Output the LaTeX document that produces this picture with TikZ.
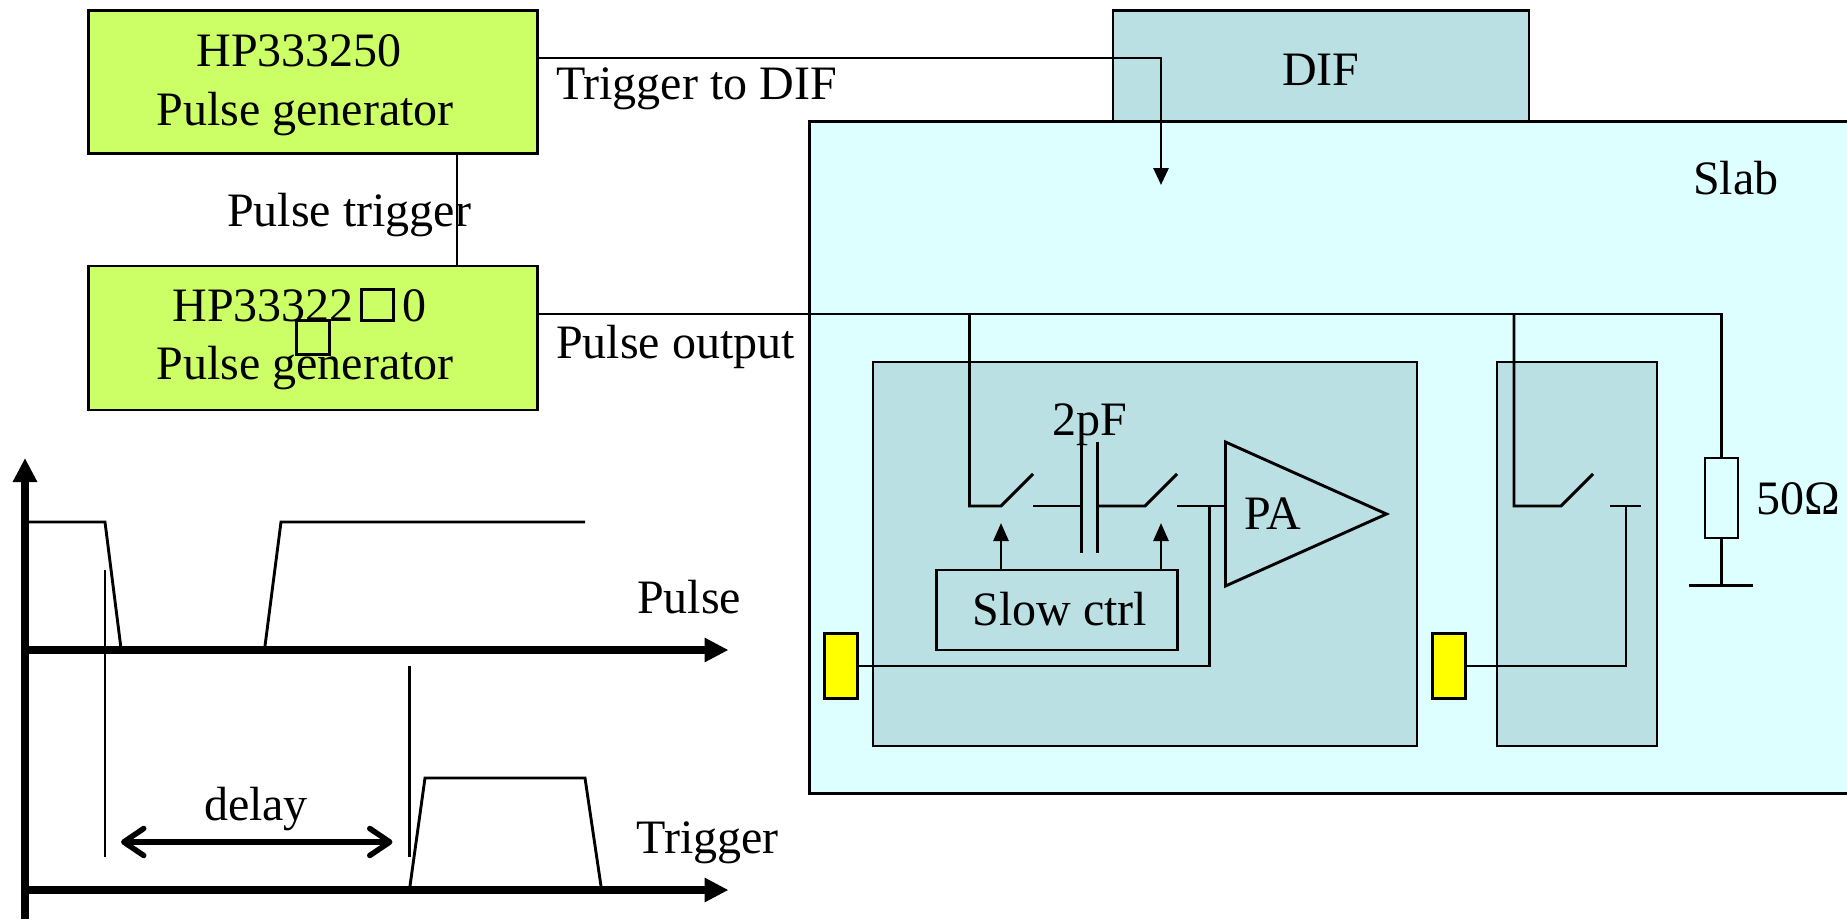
\documentclass[tikz,border=0pt]{standalone}
\usepackage{fontspec}
\setmainfont{Liberation Serif}
\usetikzlibrary{arrows.meta}
\newcommand{\tofu}{\setlength{\fboxsep}{0pt}\setlength{\fboxrule}{3pt}\fbox{\rule{0pt}{28pt}\rule{29pt}{0pt}}}
\definecolor{genfill}{HTML}{CCFF66}
\definecolor{modfill}{HTML}{BBE0E3}
\definecolor{slabfill}{HTML}{DDFFFF}
\definecolor{padfill}{HTML}{FFFF00}
\tikzset{
  lw/.style={line width=2.9pt},
  block/.style={draw=black,lw,anchor=north west,inner sep=0pt,outer sep=0pt},
  genbox/.style={block,fill=genfill},
  modbox/.style={block,fill=modfill},
  slabbox/.style={block,fill=slabfill},
  padbox/.style={block,fill=padfill},
  wire/.style={draw=black,lw,line join=miter},
  ctrl/.style={wire,-{Triangle[length=18pt,width=15pt]}},
  axis/.style={draw=black,line width=8pt,-{Triangle[length=24pt,width=23pt]}},
  mark line/.style={draw=black,line width=2.9pt},
  delayarrow/.style={draw=black,line width=5.5pt,{Straight Barb[length=20pt,width=27pt,line cap=round,line join=round]}-{Straight Barb[length=20pt,width=27pt,line cap=round,line join=round]}},
  lbl/.style={anchor=base west,inner sep=0pt,outer sep=0pt,font=\fontsize{48}{50}\selectfont},
}
\begin{document}
\begin{tikzpicture}[x=1pt,y=-1pt]
\useasboundingbox (0,0) rectangle (1847,919);
\clip (0,0) rectangle (1847,919);
% boxes
\node[modbox,minimum width=416pt,minimum height=111pt] (dif) at (1113,10.5) {};
\node[slabbox,minimum width=1060pt,minimum height=672pt] (slab) at (809.5,121.5) {};
\node[modbox,minimum width=544pt,minimum height=384pt] (modA) at (873,362) {};
\node[modbox,minimum width=160pt,minimum height=384pt] (modB) at (1497,362) {};
\node[genbox,minimum width=449pt,minimum height=143pt] (gen1) at (88.5,10.5) {};
\node[genbox,minimum width=449pt,minimum height=144pt] (gen2) at (88.5,266) {};
\node[padbox,minimum width=33pt,minimum height=65pt] (padA) at (824.5,633.5) {};
\node[padbox,minimum width=33pt,minimum height=65pt] (padB) at (1432.5,633.5) {};
\node[block,minimum width=241pt,minimum height=80pt] (slow) at (936.5,570) {};
\node[block,minimum width=33pt,minimum height=80pt] (res) at (1705,458) {};
% coordinates
\coordinate (trigS) at (537,58);
\coordinate (trigC) at (1161,58);
\coordinate (trigE) at (1161,185);
\coordinate (outS) at (537,314);
\coordinate (brA) at (969.5,314);
\coordinate (brAd) at (969.5,506);
\coordinate (swA) at (1001,506);
\coordinate (swAe) at (1033,474);
\coordinate (capAs) at (1033,506);
\coordinate (capAt) at (1081.5,442);
\coordinate (capAb) at (1081.5,553);
\coordinate (capAm) at (1081.5,506);
\coordinate (capBt) at (1097.5,442);
\coordinate (capBb) at (1097.5,553);
\coordinate (capBm) at (1097.5,506);
\coordinate (swB) at (1145,506);
\coordinate (swBe) at (1177,474);
\coordinate (paS) at (1177,506);
\coordinate (paT) at (1225.5,442);
\coordinate (paB) at (1225.5,586);
\coordinate (paR) at (1386.5,514);
\coordinate (paI) at (1225.5,506);
\coordinate (jnA) at (1209.5,506);
\coordinate (jnAb) at (1209.5,666);
\coordinate (brB) at (1514,314);
\coordinate (brBd) at (1514,506);
\coordinate (swC) at (1561,506);
\coordinate (swCe) at (1593,474);
\coordinate (barL) at (1610,506);
\coordinate (barR) at (1641,506);
\coordinate (barM) at (1626,506);
\coordinate (barMb) at (1626,666);
\coordinate (gndL) at (1689,585.5);
\coordinate (gndR) at (1753,585.5);
% wires
\draw[wire] (gen1.south -| 457,0) -- (gen2.north -| 457,0);
\draw[wire,-{Triangle[length=17pt,width=15pt]}] (trigS) -- (trigC) -- (trigE);
\draw[wire] (outS) -- (res.north |- outS) -- (res.north);
\draw[wire] (res.south) -- (res.south |- gndL);
\draw[wire] (gndL) -- (gndR);
\draw[wire] (brA) -- (brAd) -- (swA) -- (swAe);
\draw[wire] (capAs) -- (capAm);
\draw[wire] (capAt) -- (capAb);
\draw[wire] (capBt) -- (capBb);
\draw[wire] (capBm) -- (swB) -- (swBe);
\draw[wire] (paS) -- (paI);
\draw[wire,line join=miter] (paT) -- (paR) -- (paB) -- cycle;
\draw[wire] (jnA) -- (jnAb) -- (padA.east |- jnAb);
\draw[wire] (brB) -- (brBd) -- (swC) -- (swCe);
\draw[wire] (barL) -- (barR);
\draw[wire] (barM) -- (barMb) -- (padB.east |- barMb);
\draw[ctrl] (slow.north -| 1001,0) -- (1001,523);
\draw[ctrl] (slow.north -| 1161,0) -- (1161,523);
% timing diagram
\coordinate (yB) at (25,919);
\coordinate (yT) at (25,458);
\coordinate (pA) at (21,650);
\coordinate (pB) at (728.5,650);
\coordinate (tA) at (21,890);
\coordinate (tB) at (728.5,890);
\draw[axis] (yB) -- (yT);
\draw[axis] (pA) -- (pB);
\draw[axis] (tA) -- (tB);
\draw[mark line] (28,522) -- (105,522) -- (120.7,646);
\draw[mark line] (265,646) -- (281,522) -- (585,522);
\draw[mark line] (410,886) -- (425,778) -- (585,778) -- (601,886);
\coordinate (m1t) at (105,570);
\coordinate (m1b) at (105,857);
\coordinate (m2t) at (409.6,666);
\coordinate (m2b) at (409.6,857);
\draw[mark line] (m1t) -- (m1b);
\draw[mark line] (m2t) -- (m2b);
\coordinate (dL) at (121,842);
\coordinate (dR) at (392.5,842);
\draw[delayarrow] (dL) -- (dR);
% labels
\node[lbl] (t1) at (196.5,66) {HP333250};
\node[lbl] (t2) at (156.5,125.5) {Pulse generator};
\node[lbl] (t3) at (172.5,321.7) {HP33322\hspace{6pt}\raisebox{3pt}{\tofu}\hspace{8pt}0};
\node[lbl] (t4) at (156.5,379) {Pulse generator};
\node[inner sep=0pt,outer sep=0pt,draw=black,line width=3pt,minimum width=33pt,minimum height=34pt,anchor=north west] (t5) at (296.5,320) {};
\node[lbl] (t6) at (556,99) {Trigger to DIF};
\node[lbl] (t7) at (227,226) {Pulse trigger};
\node[lbl] (t8) at (556,358) {Pulse output};
\node[lbl] (t9) at (1282,85) {DIF};
\node[lbl] (t10) at (1693,194.5) {Slab};
\node[lbl] (t11) at (1052.5,435.5) {2pF};
\node[lbl] (t12) at (1244.5,529) {PA};
\node[lbl] (t13) at (972.5,625) {Slow ctrl};
\node[lbl] (t14) at (1756,514) {50Ω};
\node[lbl] (t15) at (637,613) {Pulse};
\node[lbl] (t16) at (636.5,853.5) {Trigger};
\node[lbl] (t17) at (204,820) {delay};
\end{tikzpicture}
\end{document}
